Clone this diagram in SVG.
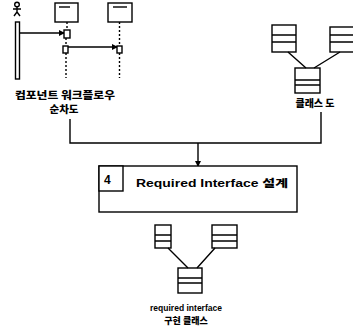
<svg xmlns="http://www.w3.org/2000/svg" width="353" height="333" viewBox="0 0 353 333">
<style>
.s{fill:#fff;stroke:#000;stroke-width:1.4}
.l{fill:none;stroke:#000;stroke-width:1.4}
.d{fill:none;stroke:#000;stroke-width:1.4;stroke-dasharray:2 2}
.t{font-family:"Noto Sans CJK KR","Liberation Sans",sans-serif;font-weight:900;fill:#000;text-anchor:middle}
.e{font-family:"Liberation Sans","Noto Sans CJK KR",sans-serif;font-weight:bold;fill:#000}
</style>
<defs>
<marker id="ah" markerWidth="6" markerHeight="6" refX="5" refY="3" orient="auto" markerUnits="userSpaceOnUse">
<path d="M0,0 L6,3 L0,6 Z" fill="#000"/>
</marker>
</defs>
<rect width="353" height="333" fill="#fff"/>

<g id="seq-diagram">
  <g id="actor">
    <circle cx="17" cy="4.5" r="2.3" class="l" stroke-width="1.8"/>
    <path d="M17,7 V12 M13,9 H21 M17,12 L14,16 M17,12 L20,16" class="l" stroke-width="1.8"/>
  </g>
  <rect x="15.5" y="22" width="4" height="57" class="s"/>
  <g id="lifeline1">
    <rect x="55" y="3" width="23" height="19" class="s"/>
    <line x1="59" y1="7" x2="70" y2="7" class="l"/>
  </g>
  <g id="lifeline2">
    <rect x="108" y="3" width="24" height="19" class="s"/>
    <line x1="113" y1="7" x2="127" y2="7" class="l"/>
  </g>
  <path d="M67,22 V30 M66,38 V46 M66,53 V78 M119.5,22 V46 M119.5,53 V78" class="d"/>
  <line x1="19.5" y1="33" x2="64" y2="33" class="l" marker-end="url(#ah)"/>
  <line x1="68" y1="47" x2="117" y2="47" class="l" marker-end="url(#ah)"/>
  <rect x="64" y="30" width="6" height="8" class="s"/>
  <rect x="63" y="46" width="5" height="7" class="s"/>
  <rect x="117" y="46" width="5" height="7" class="s"/>
</g>
<text class="t" x="65" y="99" font-size="10.5" textLength="100" lengthAdjust="spacingAndGlyphs">컴포넌트 워크플로우</text>
<text class="t" x="64" y="113" font-size="10.5">순차도</text>

<g id="class-diagram-top">
  <g id="cls-a"><rect x="272" y="25" width="24" height="27" class="s"/><path d="M272,35 H296 M272,42 H296" class="l"/></g>
  <g id="cls-b"><rect x="330" y="27" width="26" height="25" class="s"/><path d="M330,35 H356 M330,42 H356" class="l"/></g>
  <g id="cls-c"><rect x="295" y="68" width="25" height="25" class="s"/><path d="M295,80 H320 M295,85 H320" class="l"/></g>
  <path d="M288,52 L306,68 M340,52 L314,68" class="l"/>
</g>
<text class="t" x="315" y="107" font-size="10">클래스 도</text>

<g id="connectors">
  <path d="M70,119 V143 H321 V112" class="l"/>
  <line x1="198" y1="143" x2="198" y2="166" class="l" marker-end="url(#ah)"/>
</g>

<g id="step4">
  <rect x="99" y="166" width="198" height="46" class="s"/>
  <rect x="99" y="166" width="24" height="25" class="s"/>
  <text class="e" x="104" y="184" font-size="12">4</text>
  <text class="e" x="136" y="187" font-size="10" textLength="152" lengthAdjust="spacingAndGlyphs">Required Interface <tspan font-weight="900">설계</tspan></text>
</g>

<g id="class-diagram-bottom">
  <g id="cls-d"><rect x="155" y="225" width="16" height="23" class="s"/><path d="M155,235 H171 M155,241 H171" class="l"/></g>
  <g id="cls-e"><rect x="212" y="225" width="25" height="23" class="s"/><path d="M212,235 H237 M212,241 H237" class="l"/></g>
  <g id="cls-f"><rect x="178" y="268" width="24" height="25" class="s"/><path d="M178,278 H202 M178,283 H202" class="l"/></g>
  <path d="M168,248 L188,268 M215,248 L197,268" class="l"/>
</g>
<text class="e" x="186" y="311" font-size="9.5" text-anchor="middle" textLength="72" lengthAdjust="spacingAndGlyphs">required interface</text>
<text class="t" x="186" y="324" font-size="9">구현 클래스</text>
</svg>
